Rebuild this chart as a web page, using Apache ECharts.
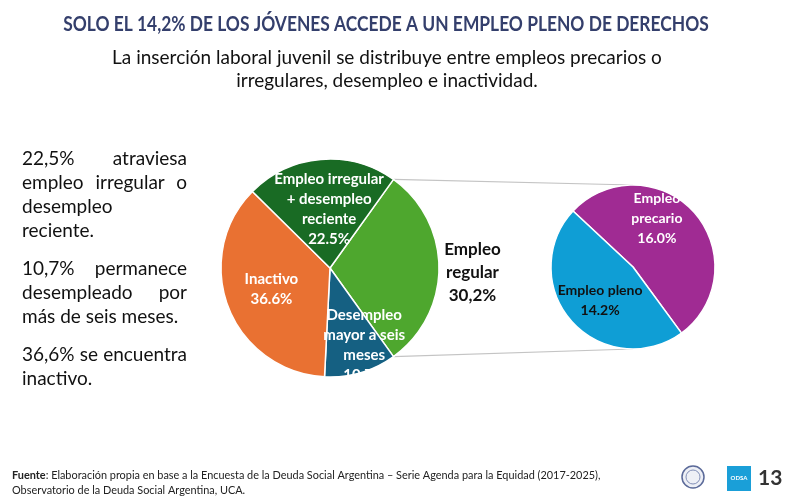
<!DOCTYPE html>
<html><head><meta charset="utf-8">
<script src="https://cdn.jsdelivr.net/npm/echarts@6/dist/echarts.min.js"></script>
<style>
html,body{margin:0;padding:0;background:#fff;}
#wrap{position:relative;width:790px;height:503px;overflow:hidden;background:#fff;}
#chart{position:absolute;left:0;top:0;width:790px;height:503px;}
.side{position:absolute;left:22px;top:146px;width:165px;font-family:Lato,'Open Sans',sans-serif;font-size:19px;line-height:24px;color:#111;}
.side .ln{white-space:nowrap;}
.side .j{text-align:justify;text-align-last:justify;white-space:normal;}
.side .p{margin-bottom:14px;}
</style></head>
<body><div id="wrap"><div id="chart"></div><div class="side" id="side"></div></div>
<script>
// ---- data ----
const leftCategories = ['Empleo regular', 'Desempleo mayor a seis meses', 'Inactivo', 'Empleo irregular + desempleo reciente'];
const leftLabelNames = ['Empleo\nregular', 'Desempleo\nmayor a seis\nmeses', 'Inactivo', 'Empleo irregular\n+ desempleo\nreciente'];
const leftValues = [30.2, 10.7, 36.6, 22.5];
const leftDecimalSep = [',', '.', '.', '.'];
const rightCategories = ['Empleo precario', 'Empleo pleno'];
const rightLabelNames = ['Empleo\nprecario', 'Empleo pleno'];
const rightValues = [16.0, 14.2];
const sideParagraphs = [
  ['22,5% atraviesa', 'empleo irregular o', 'desempleo', 'reciente.'],
  ['10,7% permanece', 'desempleado por', 'más de seis meses.'],
  ['36,6% se encuentra', 'inactivo.']
];
const titleText = 'SOLO EL 14,2% DE LOS JÓVENES ACCEDE A UN EMPLEO PLENO DE DERECHOS';
const subtitleText = 'La inserción laboral juvenil se distribuye entre empleos precarios o\nirregulares, desempleo e inactividad.';
const sourceText = '{b|Fuente}: Elaboración propia en base a la Encuesta de la Deuda Social Argentina – Serie Agenda para la Equidad (2017-2025),\nObservatorio de la Deuda Social Argentina, UCA.';
const pageNumber = '13';

// ---- styles / layout ----
const leftColors = ['#4EA72E', '#156082', '#E97132', '#196B24'];
const leftLabelColors = ['#111111', '#ffffff', '#ffffff', '#ffffff'];
const rightColors = ['#A02B93', '#0F9ED5'];
const rightLabelColors = ['#ffffff', '#111111'];
const leftCenter = [330, 268], leftRadius = 109;
const rightCenter = [633, 267], rightRadius = 82;
const leftLabelOffsets = [[85, 5], [18, 22], [-5, 0], [4, -2]];
const rightLabelOffsets = [[-9, -19], [0, 4]];
const labelFont = 'Lato, "Open Sans", sans-serif';

// side text
const side = document.getElementById('side');
sideParagraphs.forEach(lines => {
  const p = document.createElement('div');
  p.className = 'p';
  lines.forEach((t, i) => {
    const d = document.createElement('div');
    d.className = 'ln' + (i < lines.length - 1 && t.indexOf(' ') > 0 ? ' j' : '');
    d.textContent = t;
    p.appendChild(d);
  });
  side.appendChild(p);
});

const fmt = (v, sep) => v.toFixed(1).replace('.', sep) + '%';
const leftSum = leftValues.reduce((a, b) => a + b, 0);
const halfDeg = leftValues[0] / leftSum * 180;
const rightStart = 137;

const halfRad = halfDeg * Math.PI / 180;
const topPt = [leftCenter[0] + leftRadius * Math.cos(halfRad), leftCenter[1] - leftRadius * Math.sin(halfRad)];
const botPt = [leftCenter[0] + leftRadius * Math.cos(halfRad), leftCenter[1] + leftRadius * Math.sin(halfRad)];

const chart = echarts.init(document.getElementById('chart'), null, {renderer: 'canvas'});
chart.setOption({
  backgroundColor: '#ffffff',
  animation: false,
  graphic: [
    {type: 'text', x: 386, y: 25, scaleX: 0.87, style: {text: titleText, font: 'bold 20px Lato, sans-serif', fill: '#343f6c', align: 'center', verticalAlign: 'middle'}},
    {type: 'text', x: 387, y: 46, style: {text: subtitleText, font: '19px Lato, sans-serif', fill: '#111', align: 'center', verticalAlign: 'top', lineHeight: 23}},
    {type: 'line', shape: {x1: topPt[0], y1: topPt[1], x2: rightCenter[0], y2: rightCenter[1] - rightRadius}, style: {stroke: '#c4c4c4', lineWidth: 1.2}, z: 0},
    {type: 'line', shape: {x1: botPt[0], y1: botPt[1], x2: rightCenter[0], y2: rightCenter[1] + rightRadius}, style: {stroke: '#c4c4c4', lineWidth: 1.2}, z: 0},
    {type: 'text', left: 12, top: 468, style: {text: sourceText, font: '10.9px Lato, sans-serif', fill: '#222', lineHeight: 15,
      rich: {b: {fontWeight: 'bold', fontSize: 10.9, fontFamily: 'Lato, sans-serif', fill: '#222'}}}},
    {type: 'circle', shape: {cx: 693, cy: 477, r: 11}, style: {fill: '#eef0f6', stroke: '#5b6a99', lineWidth: 1.5}},
    {type: 'circle', shape: {cx: 693, cy: 477, r: 7}, style: {fill: 'none', stroke: '#8390b8', lineWidth: 1}},
    {type: 'rect', shape: {x: 727, y: 466, width: 24, height: 25}, style: {fill: '#1a9fd8'}},
    {type: 'text', x: 739, y: 478.5, style: {text: 'ODSA', font: 'bold 6px Lato, sans-serif', fill: '#fff', align: 'center', verticalAlign: 'middle'}},
    {type: 'text', x: 758, y: 478, style: {text: pageNumber, font: 'bold 21px Lato, sans-serif', fill: '#333', verticalAlign: 'middle'}}
  ],
  series: [
    {
      type: 'pie', center: leftCenter, radius: leftRadius, startAngle: halfDeg, clockwise: true,
      avoidLabelOverlap: false, silent: true,
      itemStyle: {borderColor: '#ffffff', borderWidth: 1.5},
      emphasis: {disabled: true},
      labelLine: {show: false},
      label: {show: true, position: 'inside', fontFamily: labelFont, fontWeight: 'bold', fontSize: 15, lineHeight: 20,
        formatter: p => leftLabelNames[p.dataIndex] + '\n' + fmt(p.value, leftDecimalSep[p.dataIndex])},
      labelLayout: p => ({dx: leftLabelOffsets[p.dataIndex][0], dy: leftLabelOffsets[p.dataIndex][1]}),
      data: leftValues.map((v, i) => ({
        value: v, name: leftCategories[i], itemStyle: {color: leftColors[i]},
        label: i === 0 ? {color: leftLabelColors[i], fontSize: 17, lineHeight: 23} : {color: leftLabelColors[i]}
      }))
    },
    {
      type: 'pie', center: rightCenter, radius: rightRadius, startAngle: rightStart, clockwise: true,
      avoidLabelOverlap: false, silent: true,
      itemStyle: {borderColor: '#ffffff', borderWidth: 1.5},
      emphasis: {disabled: true},
      labelLine: {show: false},
      label: {show: true, position: 'inside', fontFamily: labelFont, fontWeight: 'bold', fontSize: 14, lineHeight: 20,
        formatter: p => rightLabelNames[p.dataIndex] + '\n' + fmt(p.value, '.')},
      labelLayout: p => ({dx: rightLabelOffsets[p.dataIndex][0], dy: rightLabelOffsets[p.dataIndex][1]}),
      data: rightValues.map((v, i) => ({
        value: v, name: rightCategories[i], itemStyle: {color: rightColors[i]},
        label: {color: rightLabelColors[i]}
      }))
    }
  ]
});
</script>
</body></html>
